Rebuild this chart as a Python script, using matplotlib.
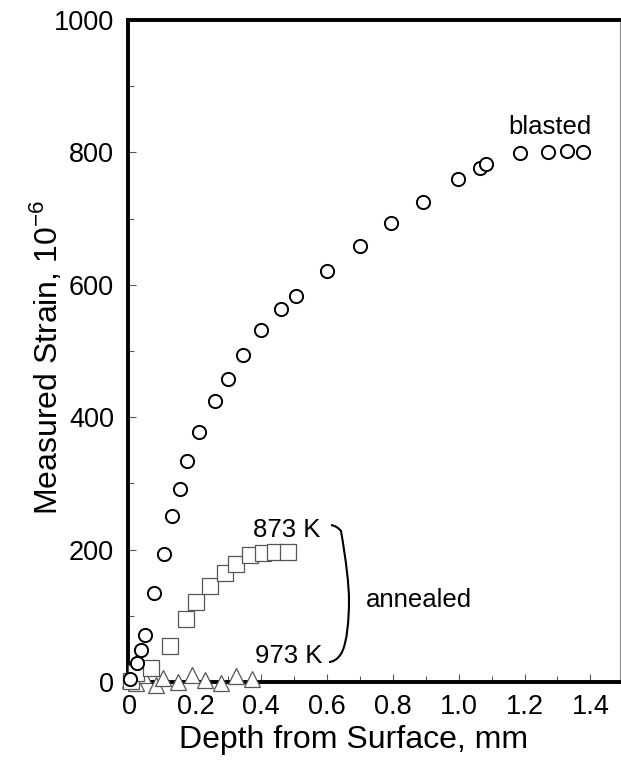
import matplotlib
matplotlib.use("Agg")
import matplotlib.pyplot as plt
from matplotlib.path import Path
from matplotlib.patches import PathPatch
from matplotlib.ticker import MultipleLocator, FixedLocator

plt.rcParams['font.family'] = ['Liberation Sans', 'DejaVu Sans']
plt.rcParams['mathtext.fontset'] = 'custom'
plt.rcParams['mathtext.rm'] = 'Liberation Sans'

# blasted (circles)
blast_x = [0.0, 0.023, 0.036, 0.046, 0.074, 0.103, 0.129, 0.152, 0.175, 0.211,
           0.260, 0.299, 0.343, 0.398, 0.461, 0.504, 0.600, 0.701, 0.795, 0.891,
           0.998, 1.064, 1.082, 1.185, 1.271, 1.329, 1.378]
blast_y = [4, 29, 48, 71, 134, 194, 251, 291, 334, 377,
           424, 457, 494, 531, 563, 583, 621, 659, 693, 725,
           760, 776, 783, 799, 801, 802, 800]

# annealed 873 K (squares)
a873_x = [0.005, 0.02, 0.066, 0.122, 0.172, 0.201, 0.243, 0.289, 0.324, 0.365, 0.405, 0.441, 0.481]
a873_y = [2, 14, 21, 54, 95, 121, 145, 165, 179, 192, 195, 197, 196]

# annealed 973 K (triangles)
a973_x = [0.0, 0.02, 0.04, 0.081, 0.101, 0.147, 0.188, 0.228, 0.279, 0.324, 0.373]
a973_y = [3, -2, 11, -5, 6, 0, 11, 3, -1, 9, 4]

xticks = [0, 0.2, 0.4, 0.6, 0.8, 1.0, 1.2, 1.4]
xticklabels = ["0", "0.2", "0.4", "0.6", "0.8", "1.0", "1.2", "1.4"]
yticks = [0, 200, 400, 600, 800, 1000]

fig = plt.figure(figsize=(6.21, 7.68), dpi=100)
L, R, T, B = 128, 620, 20, 682
W, H = 621, 768
ax = fig.add_axes([L / W, 1 - B / H, (R - L) / W, (B - T) / H])

ax.plot(a973_x, a973_y, linestyle='none', marker='^', ms=11, mfc='white',
        mec='#555555', mew=0.9, zorder=5, clip_on=False)
ax.plot(a873_x, a873_y, linestyle='none', marker='s', ms=11, mfc='white',
        mec='#555555', mew=0.9, zorder=5, clip_on=False)
ax.plot(blast_x, blast_y, linestyle='none', marker='o', ms=9.5, mfc='white',
        mec='black', mew=1.4, zorder=6, clip_on=False)

ax.set_xlim(-0.005, 1.49)
ax.set_ylim(0, 1000)
ax.xaxis.set_major_locator(FixedLocator(xticks))
ax.set_xticklabels(xticklabels)
ax.xaxis.set_minor_locator(MultipleLocator(0.1))
ax.set_yticks(yticks)
ax.yaxis.set_minor_locator(MultipleLocator(100))
ax.tick_params(which='both', direction='in', labelsize=19.5, width=0.8, color='#555555')
ax.tick_params(which='major', length=6)
ax.tick_params(which='minor', length=4)
ax.tick_params(axis='x', pad=9)
ax.tick_params(axis='y', pad=10)

for s in ['left', 'top', 'bottom']:
    ax.spines[s].set_linewidth(2.8)
    ax.spines[s].set_color('black')
ax.spines['right'].set_linewidth(0.8)
ax.spines['right'].set_color('#888888')

ax.set_xlabel("Depth from Surface, mm", fontsize=23)
ax.set_ylabel("Measured Strain, 10$^{-6}$", fontsize=23)
ax.xaxis.set_label_coords((354 - L) / (R - L), -(725 - B) / (B - T))
ax.yaxis.set_label_coords(-(L - 64) / (R - L), (B - 357) / (B - T))

ax.text(0.375, 230, "873 K", fontsize=18.5, ha='left', va='center')
ax.text(0.38, 39, "973 K", fontsize=18.5, ha='left', va='center')
ax.text(0.878, 124, "annealed", fontsize=18.5, ha='center', va='center')
ax.text(1.404, 828, "blasted", fontsize=18.5, ha='right', va='baseline')

def af(px, py):
    return ((px - L) / (R - L), (B - py) / (B - T))

verts = [af(331, 525), af(337, 526), af(341, 531),
         af(346, 560), af(349, 585), af(349, 600),
         af(349, 620), af(347, 642), af(342, 652),
         af(338, 660), af(332, 662), af(329, 662)]
codes = [Path.MOVETO, Path.CURVE3, Path.CURVE3,
         Path.CURVE4, Path.CURVE4, Path.CURVE4,
         Path.CURVE4, Path.CURVE4, Path.CURVE4,
         Path.CURVE4, Path.CURVE4, Path.CURVE4]
ax.add_patch(PathPatch(Path(verts, codes), transform=ax.transAxes, fill=False,
                       lw=1.5, color='black', clip_on=False))

fig.savefig("out.png", dpi=100)
